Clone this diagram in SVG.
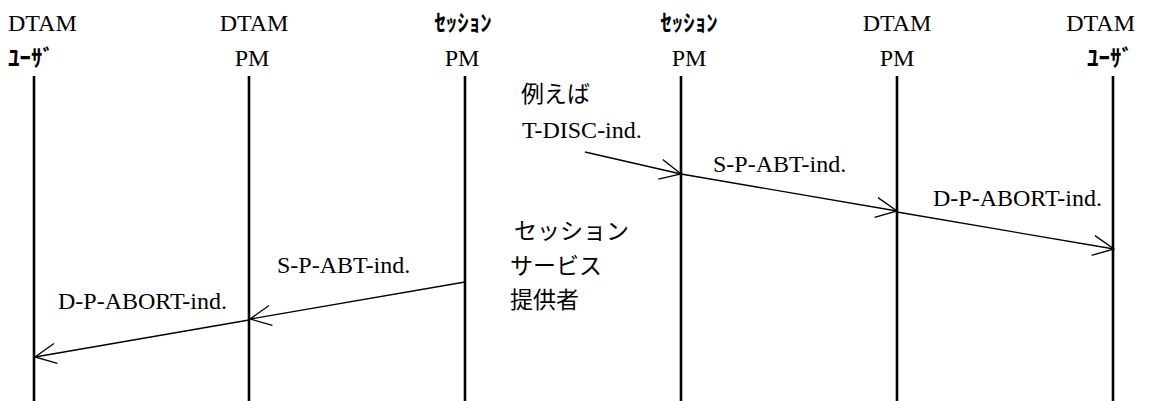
<svg xmlns="http://www.w3.org/2000/svg" width="1149" height="401" viewBox="0 0 1149 401">
<style>
.lat{font-family:"Liberation Serif","Times New Roman",serif;font-size:24px;fill:#000}
.kana{font-family:"Noto Sans CJK JP","Noto Sans",sans-serif;font-size:23px;font-weight:bold;fill:#000}
.jp{font-family:"Noto Sans CJK JP","Noto Sans",sans-serif;font-size:23px;fill:#000}
.life{stroke:#000;stroke-width:2.6;fill:none}
.msg{stroke:#000;stroke-width:1.3;fill:none}
</style>
<defs>
<marker id="arr" markerUnits="userSpaceOnUse" viewBox="-24 -12 26 24" refX="0" refY="0" markerWidth="26" markerHeight="24" orient="auto" overflow="visible">
<path d="M-21,-10 L0,0 L-21,10" fill="none" stroke="#000" stroke-width="1.3"/>
</marker>
</defs>
<rect width="1149" height="401" fill="#fff"/>
<g id="node-dtam-user-l">
<text class="lat" x="8" y="31">DTAM</text>
<text class="kana" x="8" y="66">ﾕｰｻﾞ</text>
<line class="life" x1="34" y1="76" x2="34" y2="401"/>
</g>
<g id="node-dtam-pm-l">
<text class="lat" x="254" y="31" text-anchor="middle">DTAM</text>
<text class="lat" x="252" y="66" text-anchor="middle">PM</text>
<line class="life" x1="249" y1="76" x2="249" y2="401"/>
</g>
<g id="node-session-pm-l">
<text class="kana" x="463" y="31" text-anchor="middle">ｾｯｼｮﾝ</text>
<text class="lat" x="462" y="66" text-anchor="middle">PM</text>
<line class="life" x1="465" y1="76" x2="465" y2="401"/>
</g>
<g id="node-session-pm-r">
<text class="kana" x="689" y="31" text-anchor="middle">ｾｯｼｮﾝ</text>
<text class="lat" x="689" y="66" text-anchor="middle">PM</text>
<line class="life" x1="681" y1="76" x2="681" y2="401"/>
</g>
<g id="node-dtam-pm-r">
<text class="lat" x="897" y="31" text-anchor="middle">DTAM</text>
<text class="lat" x="897" y="66" text-anchor="middle">PM</text>
<line class="life" x1="897" y1="76" x2="897" y2="401"/>
</g>
<g id="node-dtam-user-r">
<text class="lat" x="1135" y="31" text-anchor="end">DTAM</text>
<text class="kana" x="1110" y="66" text-anchor="middle">ﾕｰｻﾞ</text>
<line class="life" x1="1113" y1="76" x2="1113" y2="401"/>
</g>
<g id="connectors">
<line class="msg" x1="585" y1="152" x2="681" y2="174" marker-end="url(#arr)"/>
<line class="msg" x1="681" y1="174" x2="897" y2="211" marker-end="url(#arr)"/>
<line class="msg" x1="897" y1="212" x2="1114" y2="249" marker-end="url(#arr)"/>
<line class="msg" x1="465" y1="282" x2="250" y2="319" marker-end="url(#arr)"/>
<line class="msg" x1="249" y1="320" x2="35" y2="357" marker-end="url(#arr)"/>
</g>
<g id="labels">
<text class="jp" x="521" y="102">例えば</text>
<text class="lat" x="522" y="138">T-DISC-ind.</text>
<text class="lat" x="713" y="172">S-P-ABT-ind.</text>
<text class="lat" x="933" y="206">D-P-ABORT-ind.</text>
<text class="lat" x="277" y="273">S-P-ABT-ind.</text>
<text class="lat" x="58" y="309">D-P-ABORT-ind.</text>
<text class="jp" x="514" y="239" font-size="24">セッション</text>
<text class="jp" x="510" y="274">サービス</text>
<text class="jp" x="510" y="308">提供者</text>
</g>
</svg>
